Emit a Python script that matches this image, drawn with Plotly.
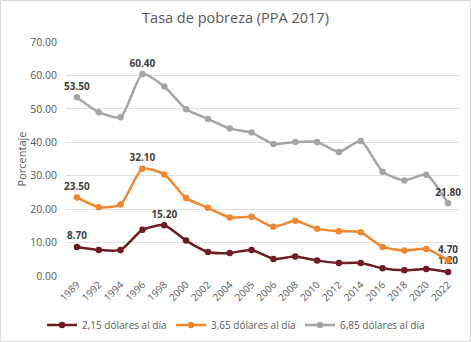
import plotly.graph_objects as go

years = ["1989", "1992", "1994", "1996", "1998", "2000", "2002", "2004", "2005",
         "2006", "2008", "2010", "2012", "2014", "2016", "2018", "2020", "2022"]
s215 = [8.7, 7.8, 7.8, 13.8, 15.2, 10.6, 7.2, 6.9, 7.8, 5.1, 5.8, 4.6, 3.9, 3.9, 2.3, 1.7, 2.1, 1.2]
s365 = [23.5, 20.6, 21.4, 32.1, 30.4, 23.3, 20.4, 17.5, 17.7, 14.7, 16.5, 14.1, 13.4, 13.1, 8.7, 7.6, 8.1, 4.7]
s685 = [53.5, 49.0, 47.5, 60.4, 56.7, 49.9, 47.0, 44.1, 42.9, 39.5, 40.1, 40.1, 37.1, 40.4, 31.2, 28.6, 30.3, 21.8]
names = ["2,15 dólares al día", "3,65 dólares al día", "6,85 dólares al día"]
colors = ["#6E1B22", "#F0862F", "#A5A5A5"]

def labels(vals, idxs):
    return [f"{v:.2f}" if i in idxs else "" for i, v in enumerate(vals)]

series = [(s215, [0, 4, 17]), (s365, [0, 3, 17]), (s685, [0, 3, 17])]

fig = go.Figure()
for (vals, idxs), name, col in zip(series, names, colors):
    fig.add_trace(go.Scatter(
        x=years, y=vals, name=name, mode="lines+markers+text",
        line=dict(color=col, width=2.5, shape="spline", smoothing=0.6),
        marker=dict(color=col, size=6.5),
        text=labels(vals, idxs), textposition="top center",
        textfont=dict(family="Open Sans", size=10, color="#404040", weight="bold"),
        cliponaxis=False,
    ))

W, H = 471, 342
ml, mr, mt, mb = 66, 12, 42, 66
pw, ph = W - ml - mr, H - mt - mb
fig.add_shape(type="rect", xref="paper", yref="paper",
              x0=-(ml - 0.5) / pw, x1=(W - ml - 0.5) / pw,
              y0=-(mb - 0.5) / ph, y1=(H - mb - 0.5) / ph,
              line=dict(color="#D9D9D9", width=1), layer="below")

fig.update_layout(
    width=W, height=H,
    margin=dict(l=ml, r=mr, t=mt, b=mb, autoexpand=False),
    paper_bgcolor="white", plot_bgcolor="white",
    font=dict(family="Open Sans", color="#595959", size=10),
    title=dict(text="Tasa de pobreza (PPA 2017)", xref="container", x=0.5, xanchor="center",
               y=1 - 18 / H, yanchor="middle",
               font=dict(family="Open Sans", size=14.5, color="#595959")),
    showlegend=True,
    legend=dict(orientation="h", x=(W / 2 - ml) / pw, xanchor="center", y=-(mb - 17) / ph,
                yanchor="middle", font=dict(size=10, color="#595959"), itemwidth=30,
                entrywidth=84, entrywidthmode="pixels", tracegroupgap=0),
    xaxis=dict(type="category", range=[-0.5, len(years) - 0.5], tickangle=-45,
               showgrid=False, showline=False, automargin=False, ticks="",
               tickfont=dict(size=10, color="#595959")),
    yaxis=dict(range=[0, 70], dtick=10, tickformat=".2f", showgrid=True,
               gridcolor="#E0E0E0", gridwidth=1, zeroline=False, showline=False,
               automargin=False, ticklabelstandoff=8, tickfont=dict(size=10.5, color="#595959"),
               title=dict(text="Porcentaje", font=dict(size=11, color="#595959"), standoff=1)),
)
fig.write_html("out.html")
